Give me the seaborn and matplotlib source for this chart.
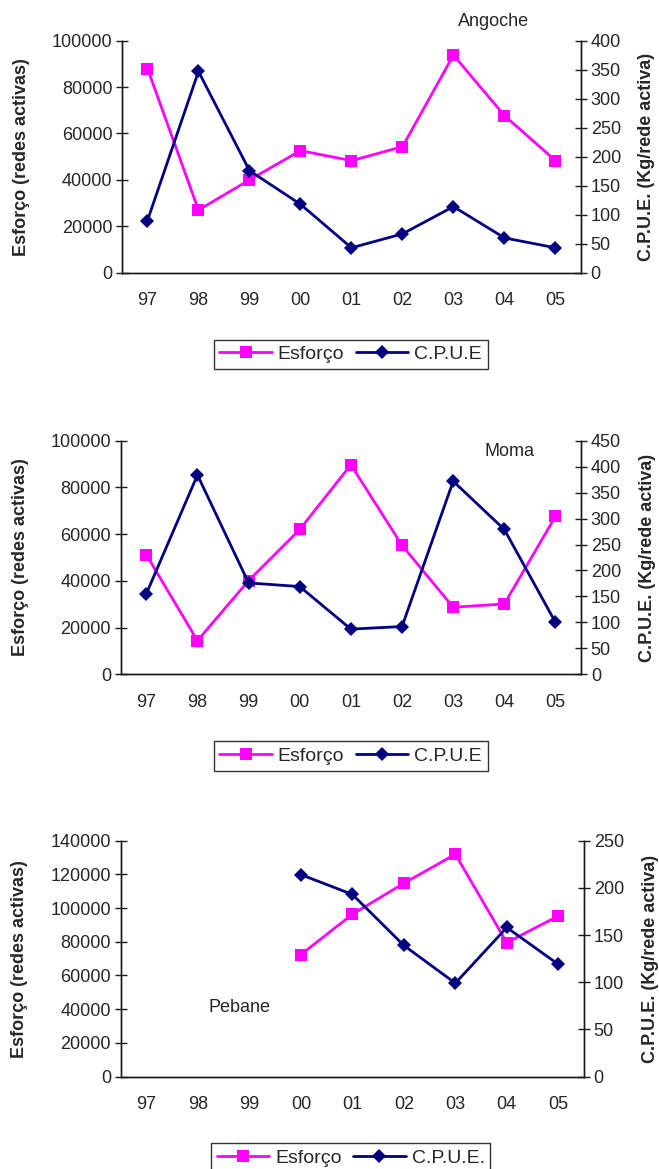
import numpy as np
import pandas as pd
import matplotlib
matplotlib.use('Agg')
import matplotlib.pyplot as plt
import seaborn as sns

# Dados (anos 97-05)
anos = ['97', '98', '99', '00', '01', '02', '03', '04', '05']

angoche_esforco = [88000, 27000, 40000, 52600, 48300, 54300, 93800, 67700, 48300]
angoche_cpue = [90, 347, 176, 118, 43, 67, 114, 60, 43]

moma_esforco = [51200, 14400, 40100, 62000, 89700, 55200, 28700, 30100, 67600]
moma_cpue = [155, 384, 176, 169, 87, 92, 372, 279, 100]

pebane_esforco = [np.nan, np.nan, np.nan, 72400, 96300, 114700, 131900, 79500, 95300]
pebane_cpue = [np.nan, np.nan, np.nan, 214, 193, 139, 99, 158, 119]

sns.set_style('white')
plt.rcParams['font.family'] = ['Liberation Sans', 'DejaVu Sans']

MAGENTA = '#FF00FF'
NAVY = '#000080'
AXIS_COL = '#1a1a1a'

fig = plt.figure(figsize=(6.59, 11.69), dpi=100)


def painel(rect, esforco, cpue, ymax_left, ymax_right, nome, nome_xy,
           cpue_label, legend_y):
    df = pd.DataFrame({'pos': np.arange(len(anos)), 'ano': anos,
                       'esforco': esforco, 'cpue': cpue})
    ax = fig.add_axes(rect)
    ax2 = ax.twinx()

    sns.lineplot(data=df, x='pos', y='esforco', ax=ax, color=MAGENTA,
                 marker='s', markersize=9, markeredgewidth=0, linewidth=2,
                 label='Esforço', legend=False)
    sns.lineplot(data=df, x='pos', y='cpue', ax=ax2, color=NAVY,
                 marker='D', markersize=7, markeredgewidth=0, linewidth=2,
                 label=cpue_label, legend=False)

    ax.set_xlim(-0.5, len(anos) - 0.5)
    ax.set_ylim(0, ymax_left)
    ax2.set_ylim(0, ymax_right)
    ax.set_yticks(np.arange(0, ymax_left + 1, 20000))
    ax2.set_yticks(np.arange(0, ymax_right + 1, 50))

    ax.set_xticks(df['pos'], anos)
    ax.set_xticks(np.arange(-0.5, len(anos), 1), minor=True)
    ax.tick_params(axis='x', which='major', length=0, pad=14, labelsize=13)
    ax.tick_params(axis='x', which='minor', direction='inout', length=8,
                   width=1, color=AXIS_COL)
    ax.tick_params(axis='y', direction='inout', length=8, width=1,
                   color=AXIS_COL, labelsize=13, pad=3)
    ax2.tick_params(axis='y', direction='inout', length=8, width=1,
                    color=AXIS_COL, labelsize=13, pad=3)

    for a in (ax, ax2):
        a.set_xlabel('')
        a.grid(False)
        a.spines['top'].set_visible(False)
        for s in ('left', 'right', 'bottom'):
            a.spines[s].set_color(AXIS_COL)
            a.spines[s].set_linewidth(1)

    ax.set_ylabel('Esforço (redes activas)', fontsize=13, fontweight='bold')
    ax2.set_ylabel('C.P.U.E. (Kg/rede activa)', fontsize=13,
                   fontweight='bold')
    ax.yaxis.set_label_coords(-0.2, 0.5)
    ax2.yaxis.set_label_coords(1.125, 0.5)

    fig.text(nome_xy[0] / 659, 1 - nome_xy[1] / 1169, nome, fontsize=13,
             ha='center', va='center')

    h1, l1 = ax.get_legend_handles_labels()
    h2, l2 = ax2.get_legend_handles_labels()
    leg = fig.legend(h1 + h2, l1 + l2, loc='center', ncol=2,
                     bbox_to_anchor=(0.532, legend_y), fontsize=14,
                     frameon=True, fancybox=False, edgecolor='black',
                     handlelength=2.7, handletextpad=0.3, columnspacing=0.6,
                     borderpad=0.3, borderaxespad=0)
    leg.get_frame().set_linewidth(1)
    return ax, ax2


painel([0.1851, 0.7667, 0.6965, 0.1985], angoche_esforco, angoche_cpue,
       100000, 400, 'Angoche', (494, 22), 'C.P.U.E', 0.697)
painel([0.1832, 0.4232, 0.6985, 0.1998], moma_esforco, moma_cpue,
       100000, 450, 'Moma', (509, 452), 'C.P.U.E', 0.3533)
painel([0.1832, 0.0790, 0.7030, 0.2019], pebane_esforco, pebane_cpue,
       140000, 250, 'Pebane', (240, 1008), 'C.P.U.E.', 0.0094)

fig.savefig('out.png', dpi=100)
